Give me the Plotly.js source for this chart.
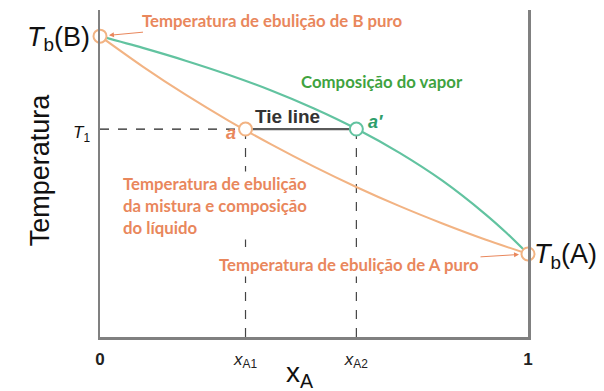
<!DOCTYPE html>
<html>
<head>
<meta charset="utf-8">
<script src="https://cdn.plot.ly/plotly-3.0.1.min.js"></script>
<style>html,body{margin:0;padding:0;background:#fff;}#chart{width:604px;height:391px;}</style>
</head>
<body>
<div id="chart"></div>
<script>
// --- data (x = mole fraction of A, T in arbitrary units 0..100) ---
var liquidX = [0, 0.1, 0.2, 0.3, 0.4, 0.5, 0.6, 0.7, 0.8, 0.9, 1];
var liquidT = [92.0, 82.7, 74.1, 66.2, 58.9, 52.1, 45.8, 40.0, 34.7, 29.8, 25.4];
var vaporX  = [0, 0.1, 0.2, 0.3, 0.4, 0.5, 0.6, 0.7, 0.8, 0.9, 0.95, 1];
var vaporT  = [92.0, 88.4, 84.5, 80.2, 75.4, 69.9, 63.6, 56.3, 47.8, 37.6, 31.8, 25.4];
var TbB = 92.0, TbA = 25.4, T1 = 63.6;
var xA1 = 0.340, xA2 = 0.599;
var xTickVals = [0, xA1, xA2, 1];
var xTickText = ['<b>0</b>', '<i>x</i><sub>A1</sub>', '<i>x</i><sub>A2</sub>', '<b>1</b>'];
var yTickVals = [TbB, T1];
var yTickText = ['<i>T</i><sub>b</sub>(B)', '<span style="font-size:17px"><i>T</i><sub>1</sub></span>'];
var y2TickVals = [TbA];
var y2TickText = ['<i>T</i><sub>b</sub>(A)'];

var ORANGE_LINE = '#F2B383', ORANGE_TXT = '#E9875C', GREEN_LINE = '#62C3A0',
    GREEN_TXT = '#3FA33F', GREEN_A = '#2E9E6A', AXIS = '#808080';

var traces = [
  {x: [0, xA1], y: [T1, T1], mode: 'lines', line: {color: '#222', width: 1.2, dash: 'dash'}, hoverinfo: 'skip'},
  {x: [xA1, xA1], y: [0, T1], mode: 'lines', line: {color: '#444', width: 1.2, dash: 'dash'}, hoverinfo: 'skip'},
  {x: [xA2, xA2], y: [0, T1], mode: 'lines', line: {color: '#444', width: 1.2, dash: 'dash'}, hoverinfo: 'skip'},
  {x: [xA1, xA2], y: [T1, T1], mode: 'lines', line: {color: '#5a5a5a', width: 2.2}, hoverinfo: 'skip'},
  {x: vaporX, y: vaporT, mode: 'lines', line: {color: GREEN_LINE, width: 2.2, shape: 'spline', smoothing: 0.8}, cliponaxis: false},
  {x: liquidX, y: liquidT, mode: 'lines', line: {color: ORANGE_LINE, width: 2, shape: 'spline', smoothing: 0.8}, cliponaxis: false},
  {x: [0, xA1], y: [TbB, T1], mode: 'markers', cliponaxis: false,
   marker: {size: 13, color: 'white', line: {color: ORANGE_LINE, width: 2}}},
  {x: [xA2], y: [T1], mode: 'markers', cliponaxis: false,
   marker: {size: 13, color: 'white', line: {color: GREEN_LINE, width: 2}}},
  {x: [1], y: [TbA], yaxis: 'y2', mode: 'markers', cliponaxis: false,
   marker: {size: 13, color: 'white', line: {color: ORANGE_LINE, width: 2}}}
];

var tfont = {family: 'Lato, "Open Sans", sans-serif', size: 16.8, color: ORANGE_TXT, weight: 'bold'};
var AFONT = 'Liberation Sans, Arial, sans-serif';

var layout = {
  width: 604, height: 391,
  margin: {l: 100, r: 76, t: 10, b: 54},
  paper_bgcolor: 'white', plot_bgcolor: 'white',
  showlegend: false,
  xaxis: {range: [0, 1], showgrid: false, zeroline: false, showline: true, linecolor: AXIS, linewidth: 2.5,
          tickvals: xTickVals, ticktext: xTickText, ticks: '', ticklabelstandoff: 5,
          tickfont: {family: AFONT, size: 17, color: '#222'}},
  yaxis: {range: [0, 100], showgrid: false, zeroline: false, showline: true, mirror: true, linecolor: AXIS, linewidth: 2.5,
          tickvals: yTickVals, ticktext: yTickText, ticks: '', ticklabelstandoff: 2,
          tickfont: {family: AFONT, size: 27, color: '#111'}},
  yaxis2: {range: [0, 100], overlaying: 'y', side: 'right', showgrid: false, zeroline: false, showline: false,
           tickvals: y2TickVals, ticktext: y2TickText, ticks: '', ticklabelstandoff: 5,
           tickfont: {family: AFONT, size: 27, color: '#111'}},
  annotations: [
    {x: 0, y: TbB, xref: 'x', yref: 'y', text: 'Temperatura de ebulição de B puro', font: tfont,
     showarrow: true, ax: 172, ay: -16, arrowhead: 2, arrowsize: 1, arrowwidth: 1, arrowcolor: ORANGE_TXT, standoff: 9},
    {x: 1, y: TbA, xref: 'x', yref: 'y', text: 'Temperatura de ebulição de A puro', font: tfont, bgcolor: 'white',
     showarrow: true, ax: -179, ay: 11, arrowhead: 2, arrowsize: 1, arrowwidth: 1, arrowcolor: ORANGE_TXT, standoff: 9},
    {x: 0.659, y: 78.0, xref: 'x', yref: 'y', text: 'Composição do vapor', showarrow: false,
     font: {family: 'Lato, "Open Sans", sans-serif', size: 16.8, color: GREEN_TXT, weight: 'bold'}},
    {x: 0.05, y: 40.2, xref: 'x', yref: 'y', xanchor: 'left', align: 'left', showarrow: false, bgcolor: 'white',
     text: 'Temperatura de ebulição<br>da mistura e composição<br>do líquido', font: tfont},
    {x: 0.438, y: 67.4, xref: 'x', yref: 'y', text: 'Tie line', showarrow: false,
     font: {family: AFONT, size: 19, color: '#333', weight: 'bold'}},
    {x: 0.305, y: 62.3, xref: 'x', yref: 'y', text: '<i>a</i>', showarrow: false,
     font: {family: AFONT, size: 18, color: ORANGE_TXT, weight: 'bold'}},
    {x: 0.643, y: 65.6, xref: 'x', yref: 'y', text: '<i>a′</i>', showarrow: false,
     font: {family: AFONT, size: 18, color: GREEN_A, weight: 'bold'}},
    {x: -0.14, y: 0.51, xref: 'paper', yref: 'paper', xanchor: 'center', yanchor: 'middle',
     text: 'Temperatura', textangle: -90, showarrow: false,
     font: {family: AFONT, size: 27, color: '#111'}},
    {x: 0.467, y: -0.056, xref: 'paper', yref: 'paper', xanchor: 'center', yanchor: 'top',
     text: 'x<sub>A</sub>', showarrow: false,
     font: {family: AFONT, size: 28, color: '#111'}}
  ]
};

Plotly.newPlot('chart', traces, layout, {displayModeBar: false, staticPlot: true});
</script>
</body>
</html>
